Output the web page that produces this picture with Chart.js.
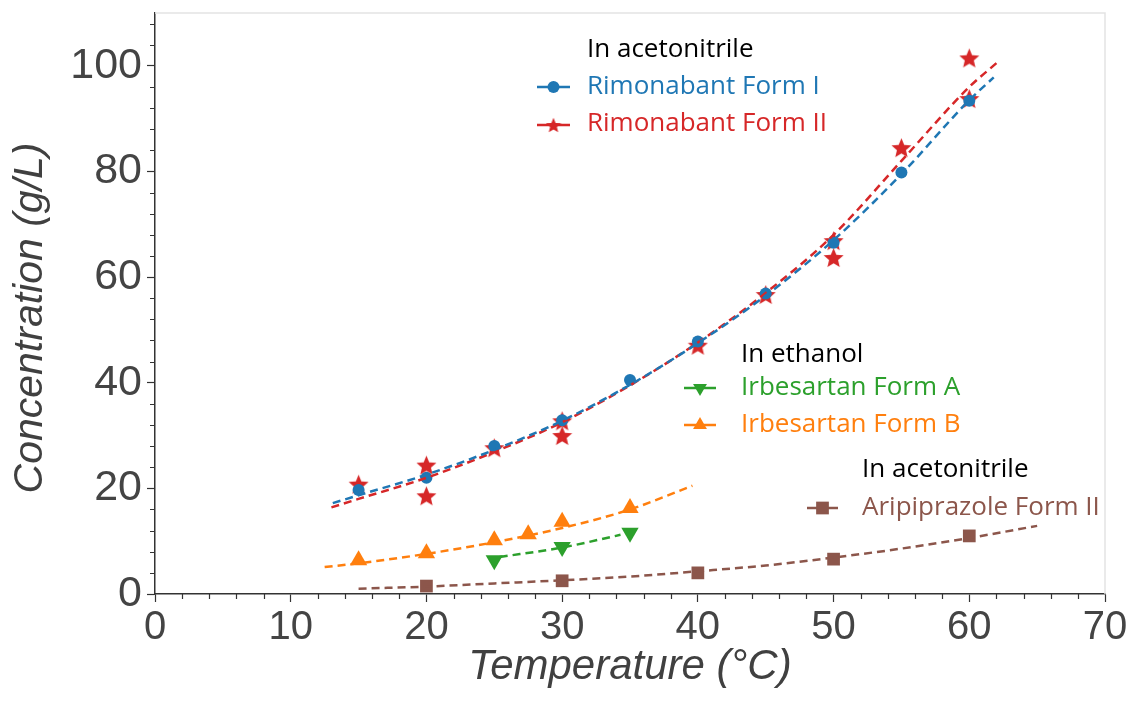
<!DOCTYPE html>
<html>
<head>
<meta charset="utf-8">
<title>Solubility curves</title>
<script src="https://cdn.jsdelivr.net/npm/chart.js@4.4.0/dist/chart.umd.min.js"></script>
<style>
  html, body { margin: 0; padding: 0; background: #fff; }
  #wrap { width: 1137px; height: 702px; }
</style>
</head>
<body>
<div id="wrap"><canvas id="solubilityChart" width="1137" height="702"></canvas></div>
<script>
// measured solubility points (temperature in °C, concentration in g/L)
const rimFormI_T = [15, 20, 25, 30, 35, 40, 45, 50, 55, 60];
const rimFormI_C = [19.7, 22.0, 28.0, 32.9, 40.5, 47.8, 56.9, 66.5, 79.8, 93.4];

const rimFormII_T = [15, 20, 20, 25, 30, 30, 40, 45, 50, 50, 55, 60, 60];
const rimFormII_C = [20.8, 24.4, 18.6, 27.7, 32.8, 30.0, 47.1, 56.7, 66.9, 63.7, 84.5, 101.5, 93.8];

const irbFormA_T = [25, 30, 35];
const irbFormA_C = [6.4, 8.9, 11.6];

const irbFormB_T = [15, 20, 25, 27.5, 30, 35];
const irbFormB_C = [6.4, 7.7, 10.2, 11.3, 13.7, 16.3];

const ariFormII_T = [20, 30, 40, 50, 60];
const ariFormII_C = [1.5, 2.5, 4.0, 6.6, 11.0];

// fitted solubility curves (dashed)
const rimFitI_T = [13.1, 15, 20, 25, 30, 35, 40, 45, 50, 55, 60, 61.8];
const rimFitI_C = [17.2, 18.7, 22.6, 27.3, 32.8, 39.6, 47.5, 56.5, 67.0, 79.5, 93.5, 97.8];

const rimFitII_T = [13, 15, 20, 25, 30, 35, 40, 45, 50, 55, 60, 62];
const rimFitII_C = [16.4, 18.0, 22.0, 26.9, 32.5, 39.5, 47.6, 57.0, 68.0, 82.0, 96.0, 100.5];

const irbFitA_T = [25.4, 30, 34.3];
const irbFitA_C = [7.0, 8.8, 11.2];

const irbFitB_T = [12.5, 15, 20, 25, 30, 35, 39.6];
const irbFitB_C = [5.1, 5.8, 7.6, 9.8, 12.5, 16.0, 20.5];

const ariFit_T = [15, 20, 25, 30, 35, 40, 45, 50, 55, 60, 65];
const ariFit_C = [1.0, 1.4, 2.0, 2.6, 3.3, 4.3, 5.4, 6.9, 8.6, 10.6, 12.9];

const xTicks = [0, 10, 20, 30, 40, 50, 60, 70];
const yTicks = [0, 20, 40, 60, 80, 100];

const BLUE = '#1f77b4';
const RED = '#d62728';
const GREEN = '#2ca02c';
const ORANGE = '#ff7f0e';
const BROWN = '#8c564b';

function toXY(ts, cs) {
    return ts.map((t, i) => ({ x: t, y: cs[i] }));
}

// filled five-point star, used as a point style
function makeStar(size, color) {
    const c = document.createElement('canvas');
    c.width = size;
    c.height = size;
    const g = c.getContext('2d');
    const cx = size / 2, cy = size / 2;
    const outer = size / 2, inner = outer * 0.45;
    g.beginPath();
    for (let i = 0; i < 10; i++) {
        const r = i % 2 === 0 ? outer : inner;
        const a = -Math.PI / 2 + i * Math.PI / 5;
        const px = cx + r * Math.cos(a);
        const py = cy + r * Math.sin(a) + size * 0.05;
        if (i === 0) g.moveTo(px, py); else g.lineTo(px, py);
    }
    g.closePath();
    g.fillStyle = color;
    g.fill();
    return c;
}

const starBig = makeStar(21, RED);
const starSmall = makeStar(16, RED);

function fitLine(label, ts, cs, color) {
    return {
        label: label,
        data: toXY(ts, cs),
        showLine: true,
        borderColor: color,
        borderWidth: 2.5,
        borderDash: [8, 5],
        pointRadius: 0,
        fill: false,
        cubicInterpolationMode: 'monotone'
    };
}

function points(label, ts, cs, color, style, radius, rotation) {
    return {
        label: label,
        data: toXY(ts, cs),
        showLine: false,
        backgroundColor: color,
        borderColor: color,
        borderWidth: 0,
        pointStyle: style,
        pointRadius: radius,
        pointRotation: rotation || 0
    };
}

const FAMILY = 'Liberation Sans, Arial, sans-serif';

// light frame, minor ticks, y title and the grouped legend
const extrasPlugin = {
    id: 'extras',
    beforeDatasetsDraw(chart) {
        const { ctx, chartArea } = chart;
        ctx.save();
        ctx.strokeStyle = '#e3e3e3';
        ctx.lineWidth = 1.5;
        ctx.beginPath();
        ctx.moveTo(chartArea.left, chartArea.top);
        ctx.lineTo(chartArea.right, chartArea.top);
        ctx.lineTo(chartArea.right, chartArea.bottom);
        ctx.stroke();

        const xs = chart.scales.x, ys = chart.scales.y;
        ctx.strokeStyle = '#333';
        ctx.lineWidth = 1.2;
        ctx.beginPath();
        for (let v = 2; v < 70; v += 2) {
            if (v % 10 === 0) continue;
            const px = Math.round(xs.getPixelForValue(v)) + 0.5;
            ctx.moveTo(px, chartArea.bottom);
            ctx.lineTo(px, chartArea.bottom + 5);
        }
        for (let v = 4; v <= 108; v += 4) {
            if (v % 20 === 0) continue;
            const py = Math.round(ys.getPixelForValue(v)) + 0.5;
            ctx.moveTo(chartArea.left, py);
            ctx.lineTo(chartArea.left - 5, py);
        }
        ctx.stroke();

        // y axis title
        ctx.translate(31, 318);
        ctx.rotate(-Math.PI / 2);
        ctx.font = 'italic 41px ' + FAMILY;
        ctx.fillStyle = '#404040';
        ctx.textAlign = 'center';
        ctx.textBaseline = 'middle';
        ctx.fillText('Concentration (g/L)', 0, 0);
        ctx.restore();
    },
    afterDraw(chart) {
        const ctx = chart.ctx;
        const font = '26px "Open Sans", "Noto Sans", sans-serif';

        function handle(x1, x2, y, color, style, radius, rotation) {
            ctx.save();
            ctx.strokeStyle = color;
            ctx.lineWidth = 2.5;
            ctx.beginPath();
            ctx.moveTo(x1, y);
            ctx.lineTo(x2, y);
            ctx.stroke();
            ctx.fillStyle = color;
            Chart.helpers.drawPoint(ctx, { pointStyle: style, radius: radius, rotation: rotation || 0, borderWidth: 0 }, (x1 + x2) / 2, y);
            ctx.restore();
        }

        function text(str, x, y, color) {
            ctx.save();
            ctx.font = font;
            ctx.fillStyle = color;
            ctx.textAlign = 'left';
            ctx.textBaseline = 'middle';
            ctx.fillText(str, x, y);
            ctx.restore();
        }

        text('In acetonitrile', 587, 50, '#000');
        handle(537, 570, 87, BLUE, 'circle', 6);
        text('Rimonabant Form I', 587, 87, BLUE);
        handle(537, 570, 125, RED, starSmall, 7);
        text('Rimonabant Form II', 587, 124, RED);

        text('In ethanol', 741, 355, '#000');
        handle(684, 716, 388, GREEN, 'triangle', 8, 180);
        text('Irbesartan Form A', 741, 388, GREEN);
        handle(684, 716, 425, ORANGE, 'triangle', 8);
        text('Irbesartan Form B', 741, 425, ORANGE);

        text('In acetonitrile', 862, 470, '#000');
        handle(807, 838, 508, BROWN, 'rect', 9);
        text('Aripiprazole Form II', 862, 508, BROWN);
    }
};

const ctx = document.getElementById('solubilityChart').getContext('2d');
const solubilityChart = new Chart(ctx, {
    type: 'scatter',
    data: {
        datasets: [
            fitLine('Rimonabant Form I fit', rimFitI_T, rimFitI_C, BLUE),
            fitLine('Rimonabant Form II fit', rimFitII_T, rimFitII_C, RED),
            fitLine('Irbesartan Form B fit', irbFitB_T, irbFitB_C, ORANGE),
            fitLine('Irbesartan Form A fit', irbFitA_T, irbFitA_C, GREEN),
            fitLine('Aripiprazole Form II fit', ariFit_T, ariFit_C, BROWN),
            points('Rimonabant Form I', rimFormI_T, rimFormI_C, BLUE, 'circle', 6),
            points('Rimonabant Form II', rimFormII_T, rimFormII_C, RED, starBig, 10),
            points('Irbesartan Form B', irbFormB_T, irbFormB_C, ORANGE, 'triangle', 10),
            points('Irbesartan Form A', irbFormA_T, irbFormA_C, GREEN, 'triangle', 10, 180),
            points('Aripiprazole Form II', ariFormII_T, ariFormII_C, BROWN, 'rect', 9)
        ]
    },
    options: {
        responsive: false,
        animation: false,
        layout: { padding: { top: 13, right: 32, left: 0, bottom: 0 } },
        plugins: {
            legend: { display: false },
            tooltip: { enabled: false }
        },
        scales: {
            x: {
                type: 'linear',
                min: 0,
                max: 70,
                afterBuildTicks: scale => { scale.ticks = xTicks.map(v => ({ value: v })); },
                afterFit: scale => { scale.height = 108; },
                ticks: { font: { family: FAMILY, size: 40 }, color: '#444', padding: 2 },
                grid: { drawOnChartArea: false, drawTicks: true, tickLength: 8, tickColor: '#333', tickWidth: 1.2 },
                border: { color: '#333', width: 1.5 },
                title: { display: true, text: 'Temperature (°C)', font: { family: FAMILY, size: 42, style: 'italic' }, color: '#404040', padding: { top: 0, bottom: 9 } }
            },
            y: {
                type: 'linear',
                min: 0,
                max: 110,
                afterBuildTicks: scale => { scale.ticks = yTicks.map(v => ({ value: v })); },
                afterFit: scale => {
                    scale.width = 155;
                    scale.paddingTop = 0;
                    scale.paddingBottom = 0;
                },
                ticks: { font: { family: FAMILY, size: 43 }, color: '#444', padding: 5 },
                grid: { drawOnChartArea: false, drawTicks: true, tickLength: 8, tickColor: '#333', tickWidth: 1.2 },
                border: { color: '#333', width: 1.5 },
                title: { display: false }
            }
        }
    },
    plugins: [extrasPlugin]
});
</script>
</body>
</html>
